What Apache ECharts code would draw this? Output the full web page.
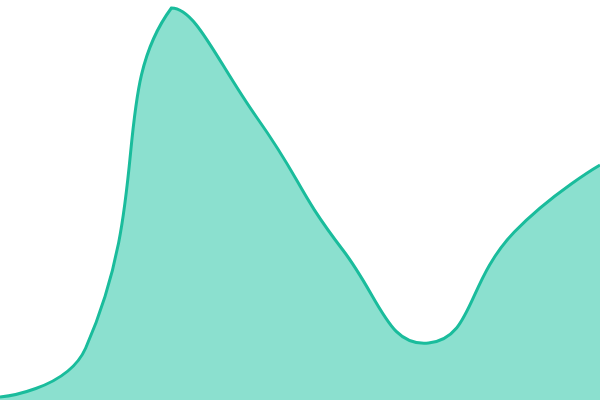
<!DOCTYPE html>
<html>
<head>
<meta charset="utf-8">
<script src="https://cdn.jsdelivr.net/npm/echarts@6/dist/echarts.min.js"></script>
<style>
html, body { margin: 0; padding: 0; background: #fff; }
#chart { width: 600px; height: 400px; }
</style>
</head>
<body>
<div id="chart"></div>
<script>
var categories = ['1', '2', '3', '4', '5', '6', '7', '8'];
var values = [3, 52, 392, 282, 150, 57, 168, 235];

var smooth = 0.5;

// smooth curve with the control points kept inside the box of all points
function buildPath(pts, baseY) {
	var minX = Infinity, minY = Infinity, maxX = -Infinity, maxY = -Infinity;
	for (var i = 0; i < pts.length; i++) {
		minX = Math.min(minX, pts[i][0]);
		maxX = Math.max(maxX, pts[i][0]);
		minY = Math.min(minY, pts[i][1]);
		maxY = Math.max(maxY, pts[i][1]);
	}
	function clamp(p) {
		return [Math.min(Math.max(p[0], minX), maxX),
				Math.min(Math.max(p[1], minY), maxY)];
	}
	var d = 'M' + pts[0][0] + ' ' + pts[0][1];
	var cp0 = pts[0].slice();
	for (var k = 1; k < pts.length; k++) {
		var p = pts[k];
		var prev = pts[k - 1];
		var next = pts[k + 1];
		var cp1, ratio = 0.5, v = [0, 0];
		if (!next) {
			cp1 = p.slice();
		} else {
			v = [next[0] - prev[0], next[1] - prev[1]];
			var lenPrev = Math.sqrt(Math.pow(p[0] - prev[0], 2) + Math.pow(p[1] - prev[1], 2));
			var lenNext = Math.sqrt(Math.pow(p[0] - next[0], 2) + Math.pow(p[1] - next[1], 2));
			ratio = lenNext / (lenNext + lenPrev);
			cp1 = [p[0] - v[0] * smooth * (1 - ratio), p[1] - v[1] * smooth * (1 - ratio)];
		}
		var a = clamp(cp0), b = clamp(cp1);
		d += ' C' + a[0] + ' ' + a[1] + ' ' + b[0] + ' ' + b[1] + ' ' + p[0] + ' ' + p[1];
		cp0 = [p[0] + v[0] * smooth * ratio, p[1] + v[1] * smooth * ratio];
	}
	var line = d;
	var area = d + ' L' + pts[pts.length - 1][0] + ' ' + baseY + ' L' + pts[0][0] + ' ' + baseY + ' Z';
	return { line : line, area : area };
}

var chart = echarts.init(document.getElementById('chart'));

var seriesData = values.map(function(v, i) {
	return [i, v];
});

var option = {
	animation : false,
	grid : {
		left : 0,
		right : 0,
		top : 0,
		bottom : 0
	},
	xAxis : {
		type : 'category',
		data : categories,
		boundaryGap : false,
		show : false
	},
	yAxis : {
		type : 'value',
		min : 0,
		max : 400,
		show : false
	},
	series : [{
		type : 'custom',
		data : seriesData,
		encode : { x : 0, y : 1 },
		renderItem : function(params, api) {
			if (params.dataIndex !== 0) {
				return;
			}
			var pts = values.map(function(v, i) {
				return api.coord([i, v]);
			});
			var baseY = api.coord([0, 0])[1];
			var path = buildPath(pts, baseY);
			return {
				type : 'group',
				children : [{
					type : 'path',
					shape : { pathData : path.area },
					style : { fill : '#8be0cf', stroke : null }
				}, {
					type : 'path',
					shape : { pathData : path.line },
					style : { fill : null, stroke : '#1abc9c', lineWidth : 3 }
				}]
			};
		}
	}]
};

chart.setOption(option);
</script>
</body>
</html>
